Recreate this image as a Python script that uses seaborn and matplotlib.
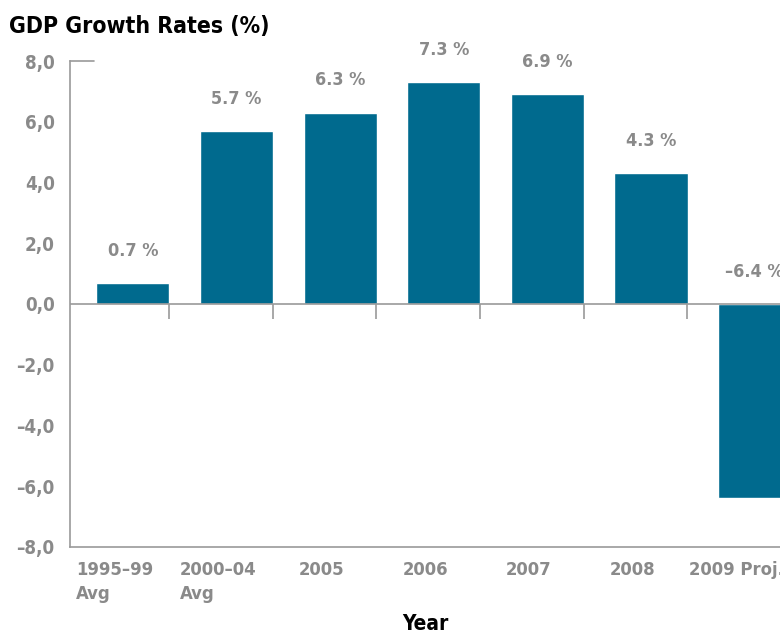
import matplotlib
matplotlib.use("Agg")
import matplotlib.pyplot as plt
from matplotlib import font_manager
import seaborn as sns
import pandas as pd
import numpy as np

categories = ["1995–99\nAvg", "2000–04\nAvg", "2005", "2006", "2007", "2008", "2009 Proj."]
values = [0.7, 5.7, 6.3, 7.3, 6.9, 4.3, -6.4]
value_labels = ["0.7 %", "5.7 %", "6.3 %", "7.3 %", "6.9 %", "4.3 %", "–6.4 %"]
ytick_values = [8, 6, 4, 2, 0, -2, -4, -6, -8]
ytick_labels = ["8,0", "6,0", "4,0", "2,0", "0,0", "–2,0", "–4,0", "–6,0", "–8,0"]

sns.set_style("white")

# pick a condensed font if one is installed
entries = font_manager.fontManager.ttflist
cond = [f for f in entries if f.name == "DejaVu Sans" and "condensed" in str(f.stretch).lower()]
narrow = [f for f in entries if "Narrow" in f.name or "Condensed" in f.name]
if cond:
    FAMILY = ["DejaVu Sans"]
    plt.rcParams['font.stretch'] = 'condensed'
elif narrow:
    FAMILY = [narrow[0].name, "DejaVu Sans"]
else:
    FAMILY = ["Roboto", "DejaVu Sans"]
plt.rcParams['font.family'] = FAMILY
plt.rcParams['font.weight'] = 'bold'

BAR = "#006a8e"
GRAY = "#8a8a8a"
LINE = "#9a9a9a"

df = pd.DataFrame({"cat": categories, "val": values})

fig = plt.figure(figsize=(7.8, 6.33), dpi=100)
ax = fig.add_axes([0.0897, 0.1359, 0.9103, 0.7677])
sns.barplot(data=df, x="cat", y="val", color=BAR, saturation=1, width=0.705, ax=ax)

ax.set_xlim(-0.608, 6.245)
ax.set_ylim(-8, 8)

for s in ["top", "right"]:
    ax.spines[s].set_visible(False)
ax.spines["left"].set_color(LINE)
ax.spines["bottom"].set_color(LINE)
ax.spines["left"].set_linewidth(1.2)
ax.spines["bottom"].set_linewidth(1.2)

# zero line
ax.axhline(0, color=LINE, lw=1.2, zorder=3)
n = len(categories)
bounds = np.arange(n - 1) + 0.35
ax.vlines(bounds, -0.49, 0, color=LINE, lw=1.2, zorder=3)
# top cap
ax.plot([-0.608, -0.38], [8, 8], color=LINE, lw=1.2, clip_on=False)

# y ticks
ax.set_yticks(ytick_values)
ax.set_yticklabels(ytick_labels)
ax.tick_params(axis="y", length=0, pad=11, labelsize=13.5, labelcolor=GRAY)

# x ticks: labels at slot centres, boundary ticks as minor ticks
ax.set_xticks(np.arange(n) - 0.18)
ax.set_xticklabels(categories, multialignment="left", linespacing=1.45)
ax.set_xticks(bounds, minor=True)
ax.tick_params(axis="x", which="major", length=0, pad=10, labelsize=13.2, labelcolor=GRAY)
ax.tick_params(axis="x", which="minor", length=11, width=1.2, color=LINE, direction="out")

# value labels
for i, (v, lab) in enumerate(zip(values, value_labels)):
    ax.text(i, max(v, 0) + 1.06, lab, ha="center", va="center", fontsize=13,
            color=GRAY, fontweight="bold")

ax.set_xlabel("")
ax.set_ylabel("")
fig.text(0.545, 1 - 624 / 633, "Year", fontsize=15, color="black", fontweight="bold",
         ha="center", va="center")

fig.text(0.012, 0.958, "GDP Growth Rates (%)", fontsize=16.5, fontweight="bold",
         color="black", ha="left", va="center")

fig.savefig("out.png", dpi=100)
